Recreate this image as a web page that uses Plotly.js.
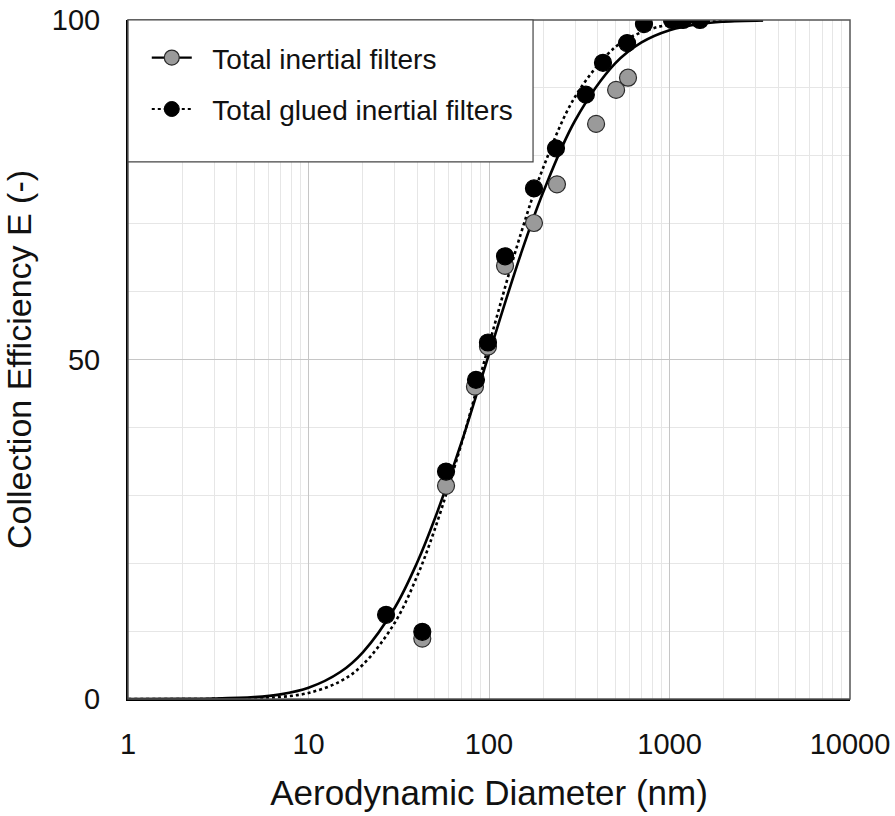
<!DOCTYPE html>
<html><head><meta charset="utf-8">
<script src="https://cdn.plot.ly/plotly-3.0.1.min.js"></script>
<style>html,body{margin:0;padding:0;background:#fff}</style>
</head><body><div id="chart" style="width:895px;height:816px"></div>
<script>
const seriesNames = ['Total inertial filters', 'Total glued inertial filters'];
const xTickVals = [1, 10, 100, 1000, 10000];
const xTickText = ['1', '10', '100', '1000', '10000'];
const yTickVals = [0, 50, 100];
const yTickText = ['0', '50', '100'];

// measured points
const grayX = [42.7, 57.8, 83.6, 98.7, 122.7, 177.5, 238, 392, 506, 589];
const grayY = [8.9, 31.4, 46.0, 51.9, 63.8, 70.1, 75.8, 84.7, 89.7, 91.5];
const blackX = [26.9, 42.7, 57.8, 84.7, 98.7, 122.7, 177.5, 235, 344, 428, 582, 722, 1032, 1188, 1475];
const blackY = [12.4, 9.9, 33.5, 47.0, 52.5, 65.2, 75.2, 81.1, 89.0, 93.7, 96.6, 99.4, 100, 100, 100];

// fitted curves
const curveX = [1, 2, 3, 5, 7, 10, 15, 20, 30, 40, 50, 70, 100, 150, 200, 300, 500, 700, 1000, 1500, 2000, 3300];
const solidY = [0, 0.014, 0.056, 0.27, 0.68, 1.65, 3.97, 6.88, 13.4, 20.1, 26.5, 37.6, 50.8, 65.5, 74.7, 85.2, 93.6, 96.7, 98.5, 99.46, 99.76, 99.95];
const dottedY = [0, 0.002, 0.014, 0.097, 0.30, 0.89, 2.6, 5.05, 11.2, 18.1, 24.95, 37.4, 52.2, 68.5, 78.3, 88.7, 96.0, 98.2, 99.34, 99.82, 99.93, 99.99];

const minorX = [];
for (let d = 1; d < 10000; d *= 10) for (let k = 2; k <= 9; k++) minorX.push(d * k);

const FONT = 'Liberation Sans, Arial, Helvetica, sans-serif';
const grayMarker = {size: 17, color: '#9a9a9a', line: {color: '#2a2a2a', width: 1.2}};
const blackMarker = {size: 17, color: '#000000', line: {color: '#000000', width: 1.2}};

const traces = [
  {x: curveX, y: solidY, type: 'scatter', mode: 'lines', line: {color: '#000', width: 2.6, shape: 'spline'}, showlegend: false, hoverinfo: 'skip'},
  {x: curveX, y: dottedY, type: 'scatter', mode: 'lines', line: {color: '#000', width: 2.6, dash: 'dot', shape: 'spline'}, showlegend: false, hoverinfo: 'skip'},
  {x: grayX, y: grayY, type: 'scatter', mode: 'markers', marker: grayMarker, showlegend: false},
  {x: blackX, y: blackY, type: 'scatter', mode: 'markers', marker: blackMarker, showlegend: false},
  {x: [null], y: [null], type: 'scatter', mode: 'lines+markers', legendgroup: 'g1', name: '\u00a0\u00a0' + seriesNames[0], line: {color: '#000', width: 2.2}, marker: {size: 15, color: '#9a9a9a', line: {color: '#2a2a2a', width: 1.2}}},
  {x: [null], y: [null], type: 'scatter', mode: 'lines+markers', legendgroup: 'g2', name: '\u00a0\u00a0' + seriesNames[1], line: {color: '#000', width: 2.2, dash: 'dot'}, marker: {size: 15, color: '#000', line: {color: '#000', width: 1}}}
];

const layout = {
  width: 895, height: 816,
  margin: {l: 128, r: 45, t: 20, b: 117},
  paper_bgcolor: '#ffffff', plot_bgcolor: '#ffffff',
  font: {family: FONT, color: '#111', size: 29},
  showlegend: true,
  legend: {x: 0.026, y: 0.981, xanchor: 'left', yanchor: 'top', bgcolor: 'rgba(0,0,0,0)', borderwidth: 0,
    font: {family: FONT, size: 28, color: '#111'}, itemwidth: 40, traceorder: 'grouped', tracegroupgap: 12},
  xaxis: {type: 'log', range: [0, 4], tickmode: 'array', tickvals: xTickVals, ticktext: xTickText,
    showgrid: true, gridcolor: '#c6c6c6', gridwidth: 1, zeroline: false, ticks: '', ticklabelstandoff: 18,
    showline: true, linecolor: '#000', linewidth: 2,
    minor: {tickmode: 'array', tickvals: minorX, showgrid: true, gridcolor: '#e6e6e6', gridwidth: 1, ticks: ''},
    title: {text: 'Aerodynamic Diameter (nm)', font: {size: 35, family: FONT, color: '#111'}, standoff: 22}},
  yaxis: {range: [0, 100], tickmode: 'array', tickvals: yTickVals, ticktext: yTickText, automargin: 'left',
    showgrid: true, gridcolor: '#c6c6c6', gridwidth: 1, zeroline: false, ticks: '', ticklabelstandoff: 20,
    showline: true, linecolor: '#000', linewidth: 2,
    minor: {tick0: 0, dtick: 10, showgrid: true, gridcolor: '#e6e6e6', gridwidth: 1, ticks: ''},
    title: {text: 'Collection Efficiency E (-)', font: {size: 34, family: FONT, color: '#111'}, standoff: 12}},
  shapes: [
    {type: 'rect', xref: 'paper', yref: 'paper', x0: 0, x1: 1, y0: 0, y1: 1, line: {color: '#555', width: 1.5}, layer: 'above'},
    {type: 'rect', xref: 'paper', yref: 'paper', x0: 0, x1: 0.561, y0: 0.791, y1: 1, fillcolor: '#ffffff', line: {color: '#444', width: 1.2}, layer: 'above'}
  ]
};

Plotly.newPlot('chart', traces, layout, {displayModeBar: false, staticPlot: true});
</script>
</body></html>
